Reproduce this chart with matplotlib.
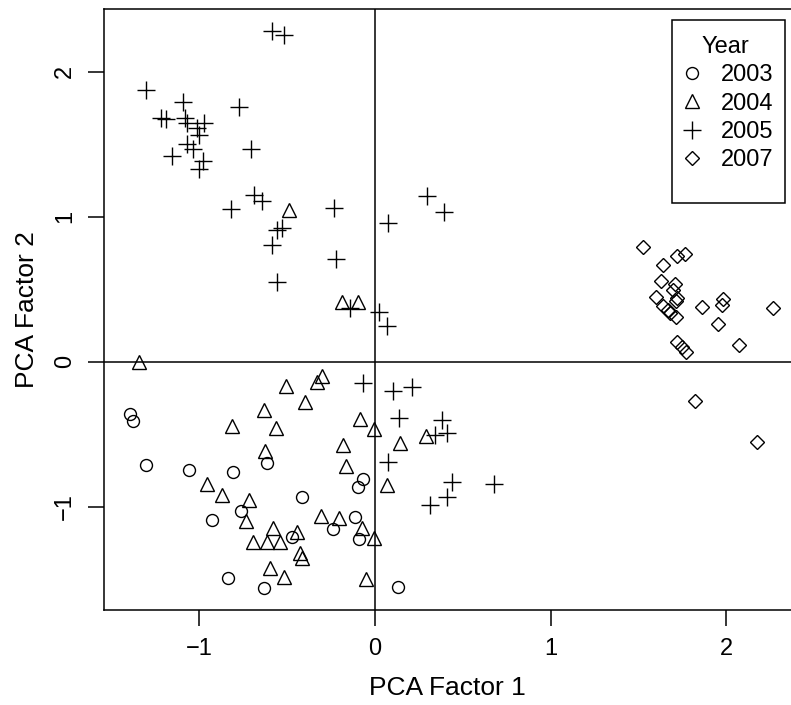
import numpy as np
import matplotlib
matplotlib.use("Agg")
import matplotlib.pyplot as plt
from matplotlib.patches import Rectangle

plt.rcParams['font.family'] = ['Liberation Sans', 'DejaVu Sans']

# PCA scores, per year
x2003 = [-1.396, -1.377, -1.303, -1.058, -0.809, -0.617, -0.414, -0.929, -0.765,
         -0.475, -0.836, -0.631, -0.067, -0.099, -0.112, -0.237, -0.089, 0.129]
y2003 = [-0.361, -0.407, -0.710, -0.747, -0.763, -0.701, -0.931, -1.092, -1.030,
         -1.207, -1.494, -1.563, -0.811, -0.864, -1.069, -1.156, -1.223, -1.552]

x2004 = [-0.492, -0.186, -0.099, -1.343, -0.302, -0.332, -0.509, -0.397, -0.631,
         -0.817, -0.564, -0.625, -0.085, -0.006, -0.184, -0.165, 0.066, -0.955,
         -0.872, -0.716, -0.735, -0.579, -0.697, -0.617, -0.541, -0.446, -0.427,
         -0.416, -0.598, -0.519, -0.306, -0.203, -0.076, -0.006, -0.053, 0.289, 0.142]
y2004 = [1.046, 0.414, 0.414, -0.004, -0.097, -0.142, -0.168, -0.278, -0.333,
         -0.441, -0.457, -0.614, -0.393, -0.466, -0.574, -0.719, -0.850, -0.843,
         -0.919, -0.954, -1.099, -1.149, -1.241, -1.241, -1.241, -1.177, -1.317,
         -1.356, -1.425, -1.483, -1.064, -1.080, -1.149, -1.218, -1.501, -0.510, -0.563]

x2005 = [-0.589, -0.517, -1.307, -1.096, -0.773, -1.219, -1.193, -1.083, -1.073,
         -0.974, -1.016, -1.003, -1.073, -1.039, -1.155, -0.978, -1.003, -0.707,
         -0.689, -0.646, -0.821, -0.235, 0.076, -0.560, -0.532, -0.585, -0.560,
         -0.222, -0.142, 0.021, 0.070, 0.294, 0.393, -0.070, 0.104, 0.213, 0.139,
         0.384, 0.408, 0.342, 0.072, 0.437, 0.408, 0.313, 0.680]
y2005 = [2.280, 2.250, 1.874, 1.793, 1.759, 1.679, 1.672, 1.679, 1.644,
         1.644, 1.610, 1.563, 1.501, 1.465, 1.421, 1.384, 1.327, 1.465,
         1.150, 1.108, 1.051, 1.058, 0.959, 0.908, 0.920, 0.805, 0.552,
         0.706, 0.368, 0.345, 0.246, 1.145, 1.034, -0.149, -0.200, -0.172, -0.390,
         -0.402, -0.490, -0.506, -0.694, -0.832, -0.931, -0.988, -0.846]

x2007 = [1.529, 1.723, 1.766, 1.643, 1.630, 1.709, 1.700, 1.601, 1.723, 1.715,
         1.639, 1.671, 1.681, 1.715, 1.861, 1.985, 1.979, 1.953, 2.270, 2.074,
         1.723, 1.748, 1.772, 1.823, 2.175]
y2007 = [0.793, 0.731, 0.741, 0.667, 0.557, 0.536, 0.494, 0.448, 0.437, 0.421,
         0.384, 0.357, 0.334, 0.306, 0.375, 0.432, 0.391, 0.260, 0.368, 0.115,
         0.138, 0.103, 0.065, -0.269, -0.556]

W, H = 791, 705
fig = plt.figure(figsize=(W / 100, H / 100), dpi=100)
ax = fig.add_axes([0.1315, 0.1348, 0.8685, 0.8525])

kw = dict(linestyle='none', markerfacecolor='none', markeredgecolor='black', markeredgewidth=1.0)
ax.plot(x2003, y2003, marker='o', markersize=8.6, label='2003', **kw)
ax.plot(x2004, y2004, marker='^', markersize=10.5, label='2004', **kw)
ax.plot(x2005, y2005, marker='+', markersize=12.5, label='2005', **kw)
ax.plot(x2007, y2007, marker='D', markersize=7.4, label='2007', **kw)

ax.axhline(0, color='black', linewidth=1.1, zorder=0)
ax.axvline(0, color='black', linewidth=1.1, zorder=0)

ax.set_xlim(-1.544, 2.370)
ax.set_ylim(-1.712, 2.432)
ax.set_xticks([-1, 0, 1, 2])
ax.set_yticks([-1, 0, 1, 2])
ax.spines['right'].set_visible(False)
for s in ['left', 'bottom', 'top']:
    ax.spines[s].set_linewidth(1.1)
ax.tick_params(direction='out', length=11.5, width=1.1, labelsize=17, pad=8.5)
plt.setp(ax.get_yticklabels(), rotation=90, va='center')

ax.set_xlabel('PCA Factor 1', fontsize=19, labelpad=12)
ax.set_ylabel('PCA Factor 2', fontsize=19, labelpad=11)

# legend box drawn separately (R style: extra room at the bottom)
box = Rectangle((672 / W, 1 - 203 / H), 113 / W, 183 / H, transform=fig.transFigure,
                facecolor='white', edgecolor='black', linewidth=1.1, zorder=4,
                clip_on=False)
ax.add_patch(box)
leg = ax.legend(title='Year', loc='upper left', bbox_to_anchor=(678 / W, 1 - 36 / H),
                bbox_transform=fig.transFigure, borderaxespad=0, borderpad=0,
                frameon=False, fontsize=17, title_fontsize=17,
                handletextpad=0.6, handlelength=1.2, labelspacing=0.27)
leg.set_zorder(5)

fig.savefig('out.png', dpi=100)
